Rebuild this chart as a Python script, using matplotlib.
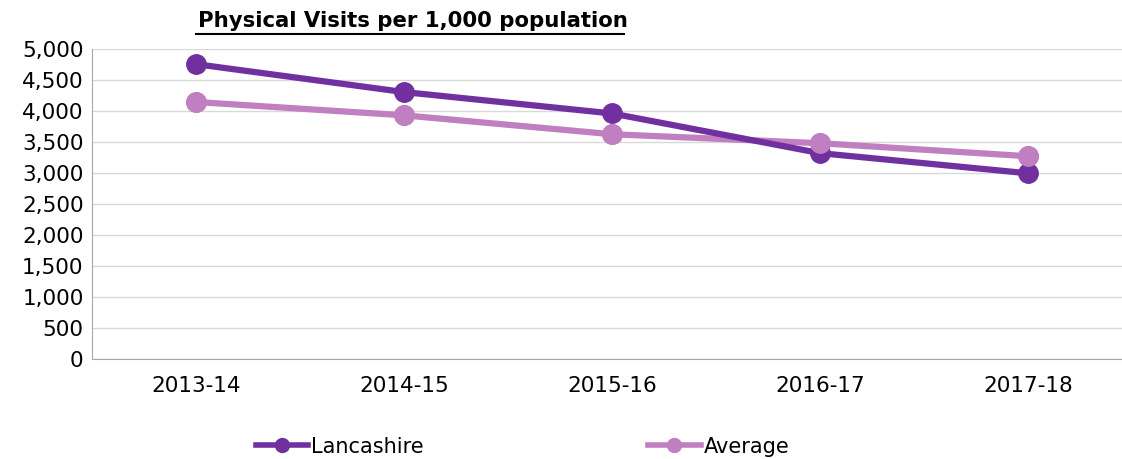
import matplotlib
matplotlib.use("Agg")
import matplotlib.pyplot as plt
from matplotlib.lines import Line2D

categories = ["2013-14", "2014-15", "2015-16", "2016-17", "2017-18"]
lancashire = [4755, 4305, 3960, 3320, 2995]
average = [4145, 3930, 3625, 3480, 3270]
yticks = [0, 500, 1000, 1500, 2000, 2500, 3000, 3500, 4000, 4500, 5000]

plt.rcParams['font.family'] = ['DejaVu Sans']
fig = plt.figure(figsize=(11.22, 4.59), dpi=100)
ax = fig.add_axes([92 / 1122, 0.2179, 1040 / 1122, 0.6754])

c_lan = "#7030a0"
c_avg = "#c07fc0"
x = range(len(categories))
ax.plot(x, average, color=c_avg, lw=4.5, marker="o", ms=14, zorder=3, solid_capstyle="round")
ax.plot(x, lancashire, color=c_lan, lw=4.5, marker="o", ms=14, zorder=4, solid_capstyle="round")
ax.plot(x, average, color=c_avg, lw=0, marker="o", ms=14, zorder=5)

ax.set_xlim(-0.5, len(categories) - 0.5)
ax.set_ylim(0, 5000)
ax.set_yticks(yticks)
ax.set_yticklabels([f"{v:,}" for v in yticks])
ax.set_xticks(list(x))
ax.set_xticklabels(categories)
ax.tick_params(axis="both", labelsize=15.5, length=0, pad=6)
ax.tick_params(axis="x", pad=12)
ax.grid(axis="y", color="#d9d9d9", lw=1)
ax.set_axisbelow(True)
for s in ["top", "right"]:
    ax.spines[s].set_visible(False)
ax.spines["left"].set_color("#a6a6a6")
ax.spines["bottom"].set_color("#a6a6a6")

fig.text(0.368, 0.955, "Physical Visits per 1,000 population", ha="center", va="center",
         fontsize=15.3, fontweight="bold", family="DejaVu Sans")
# underline
fig.add_artist(Line2D([0.1747, 0.5561], [0.925, 0.925], color="black", lw=1.5, transform=fig.transFigure))

h1 = Line2D([], [], color=c_lan, lw=4, marker="o", ms=10)
h2 = Line2D([], [], color=c_avg, lw=4, marker="o", ms=10)
fig.legend([h1, h2], ["Lancashire", "Average"], loc="center", bbox_to_anchor=(0.4657, 0.027),
           ncol=2, frameon=False, fontsize=15, columnspacing=10.8, handlelength=2.5,
           handletextpad=0.15, borderpad=0)

fig.savefig("out.png", dpi=100)
